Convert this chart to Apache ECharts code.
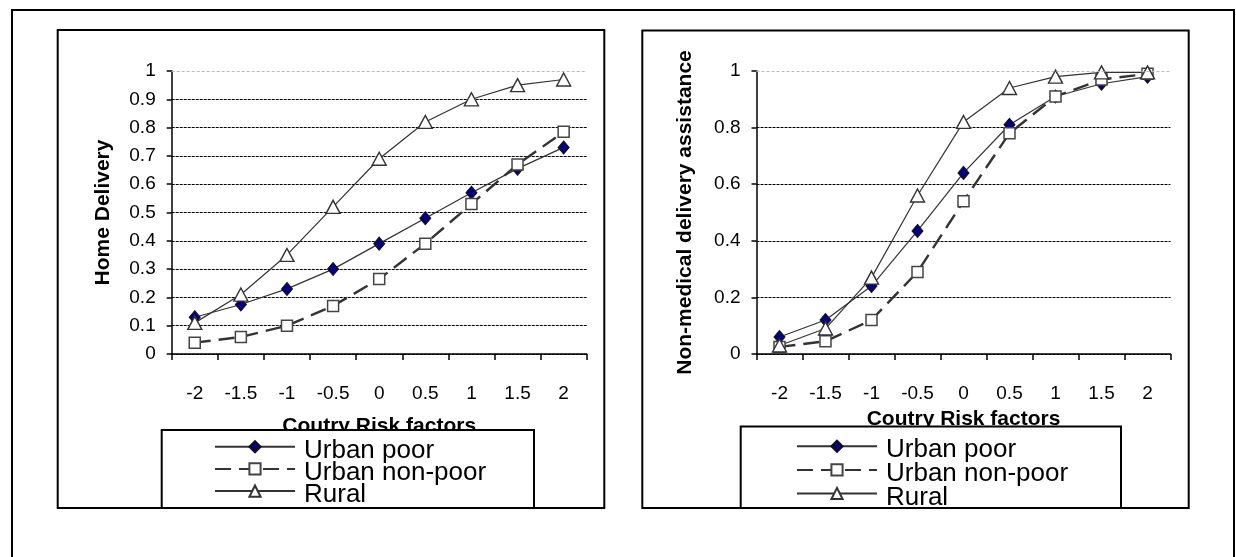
<!DOCTYPE html>
<html>
<head>
<meta charset="utf-8">
<script src="https://cdn.jsdelivr.net/npm/echarts@6/dist/echarts.min.js"></script>
<style>
html,body{margin:0;padding:0;background:#fff;}
#c{width:1236px;height:557px;}
</style>
</head>
<body>
<div id="c"></div>
<script>
const categories = ['-2','-1.5','-1','-0.5','0','0.5','1','1.5','2'];
const seriesNames = ['Urban poor','Urban non-poor','Rural'];
const homeUrbanPoor = [0.13,0.175,0.23,0.30,0.39,0.48,0.57,0.655,0.73];
const homeUrbanNonPoor = [0.04,0.06,0.10,0.17,0.265,0.39,0.53,0.67,0.785];
const homeRural = [0.11,0.21,0.35,0.52,0.69,0.82,0.90,0.95,0.97];
const nmUrbanPoor = [0.06,0.12,0.24,0.435,0.64,0.81,0.91,0.955,0.98];
const nmUrbanNonPoor = [0.025,0.045,0.12,0.29,0.54,0.78,0.91,0.97,0.99];
const nmRural = [0.03,0.09,0.27,0.56,0.82,0.94,0.98,0.995,0.995];
const leftTitle = 'Home Delivery';
const rightTitle = 'Non-medical delivery assistance';
const xTitle = 'Coutry Risk factors';

const FONT = "'Liberation Sans', Arial, sans-serif";
const chart = echarts.init(document.getElementById('c'), null, {renderer:'canvas'});

function styleFor(name){
  if(name==='Urban poor') return {
    symbol:'diamond', symbolSize:[11,13],
    itemStyle:{color:'#000080', borderColor:'#111', borderWidth:1},
    lineStyle:{color:'#333', width:1.2, type:'solid'}
  };
  if(name==='Urban non-poor') return {
    symbol:'rect', symbolSize:11,
    itemStyle:{color:'#fff', borderColor:'#444', borderWidth:1.5},
    lineStyle:{color:'#333', width:2.4, type:[16,8]}
  };
  return {
    symbol:'triangle', symbolSize:[14,13],
    itemStyle:{color:'#fff', borderColor:'#333', borderWidth:1.4},
    lineStyle:{color:'#333', width:1.2, type:'solid'}
  };
}
function mk(name, data, idx, withTop){
  const s = Object.assign({
    name:name, type:'line', xAxisIndex:idx, yAxisIndex:idx, data:data,
    showAllSymbol:true, animation:false, z:3
  }, styleFor(name));
  if(withTop){
    s.markLine = {silent:true, symbol:'none', label:{show:false},
      lineStyle:{color:'#bbb', type:[3,2], width:1},
      data:[{yAxis:1}], animation:false};
  }
  return s;
}
const axisLabelStyle = {color:'#000', fontFamily:FONT, fontSize:19};
function xAxis(idx, gap){
  return {
    type:'category', gridIndex:idx, data:categories, boundaryGap:true,
    axisLine:{lineStyle:{color:'#000', width:1.5}},
    axisTick:{show:true, alignWithLabel:false, length:6, lineStyle:{color:'#000', width:1.5}},
    axisLabel:Object.assign({margin:30, interval:0}, axisLabelStyle),
    name:xTitle, nameLocation:'middle', nameGap:gap,
    nameTextStyle:{color:'#000', fontFamily:FONT, fontSize:21, fontWeight:'bold'},
    splitLine:{show:false}
  };
}
function yAxis(idx, interval, title, gap){
  return {
    type:'value', gridIndex:idx, min:0, max:1, interval:interval,
    axisLine:{show:true, lineStyle:{color:'#000', width:1.5}},
    axisTick:{show:true, length:5, lineStyle:{color:'#000', width:1.5}},
    axisLabel:Object.assign({margin:16}, axisLabelStyle),
    splitLine:{show:true, showMaxLine:false, lineStyle:{color:'#000', width:1, type:[3,1]}},
    name:title, nameLocation:'middle', nameGap:gap,
    nameTextStyle:{color:'#000', fontFamily:FONT, fontSize:21, fontWeight:'bold'}
  };
}
function legend(left, top, gap){
  return {
    orient:'vertical', left:left, top:top, padding:0, itemGap:gap,
    itemWidth:80, itemHeight:14, z:20, selectedMode:false,
    data:seriesNames,
    formatter:'{t|{name}}',
    textStyle:{color:'#000', fontFamily:FONT, fontSize:26,
      rich:{t:{color:'#000', fontFamily:FONT, fontSize:26, lineHeight:26, padding:[8,0,0,4]}}}
  };
}
function box(x,y,w,h,fill,z,lw){
  return {type:'rect', shape:{x:x,y:y,width:w,height:h}, z:z, silent:true,
    style:{fill:fill, stroke:'#000', lineWidth:lw}};
}

chart.setOption({
  animation:false,
  backgroundColor:'#fff',
  grid:[
    {left:171.7, top:71, right:649.3, bottom:203, containLabel:false},
    {left:756.5, top:71, right:65.5, bottom:203, containLabel:false}
  ],
  xAxis:[xAxis(0, 62), xAxis(1, 55)],
  yAxis:[yAxis(0, 0.1, leftTitle, 58), yAxis(1, 0.2, rightTitle, 61)],
  legend:[legend(214, 429.7, -11.8), legend(796, 429.3, -10.4)],
  graphic:[
    box(12,10,1222,600,'transparent',1,2),
    box(57.7,30,546.6,478,'transparent',1,2),
    box(642.3,30.5,546.4,477.5,'transparent',1,2),
    box(161.7,430,372.3,78,'#fff',10,2),
    box(740.7,426.5,380.3,81.5,'#fff',10,2)
  ],
  series:[
    mk('Urban poor', homeUrbanPoor, 0, true),
    mk('Urban non-poor', homeUrbanNonPoor, 0, false),
    mk('Rural', homeRural, 0, false),
    mk('Urban poor', nmUrbanPoor, 1, true),
    mk('Urban non-poor', nmUrbanNonPoor, 1, false),
    mk('Rural', nmRural, 1, false)
  ]
});
</script>
</body>
</html>
